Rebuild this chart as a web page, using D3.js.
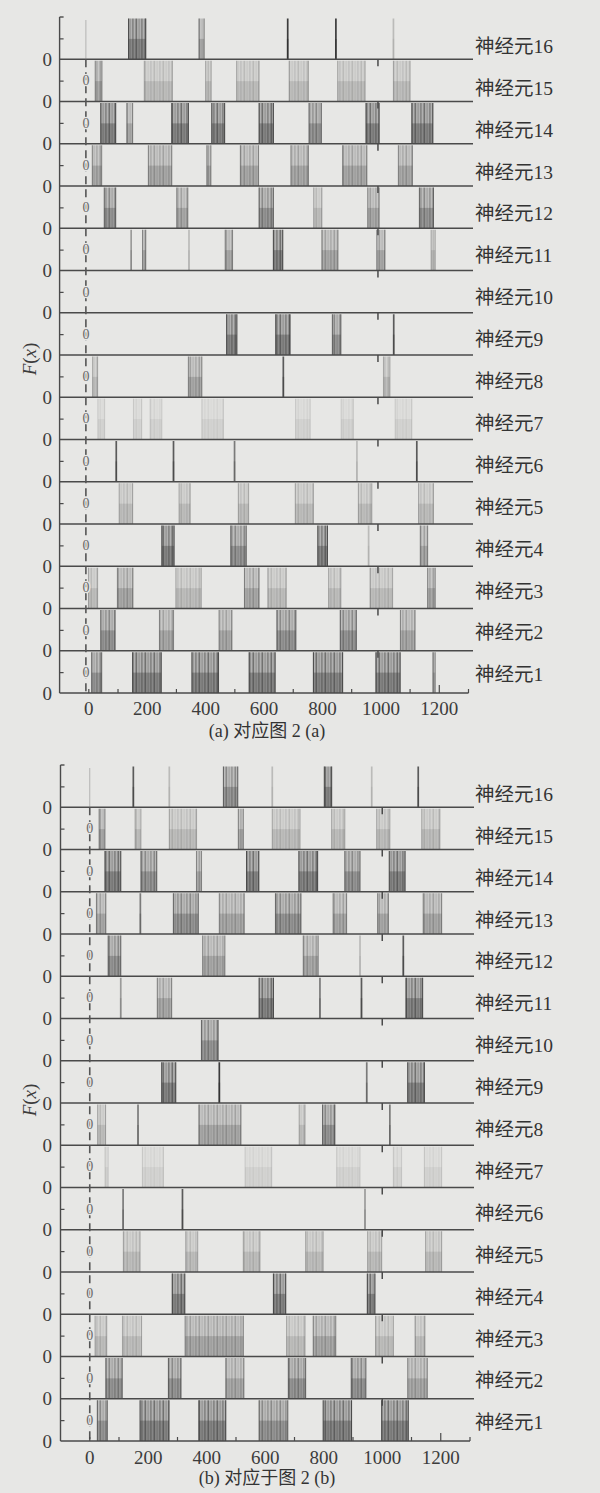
<!DOCTYPE html>
<html><head><meta charset="utf-8">
<script src="https://cdn.jsdelivr.net/npm/d3@7"></script>
<style>
html,body{margin:0;padding:0;background:#e7e7e5;}
svg{display:block;}
</style></head>
<body>
<script>
// ---------- DATA (times in x-axis units; shade 1=faint ... 5=very dark) ----------
const neuronIds = d3.range(1, 17);
const neuronLabels = neuronIds.map(i => "神经元" + i);
const xTickLabels = [0, 200, 400, 600, 800, 1000, 1200];
const xMinorTicks = [0, 100, 300, 500, 700, 900, 1100, 1300];
const xTallTicks = [1200];

// Panel (a): bursts per neuron (index 0 = neuron 1) as [start, end, shade]
const burstsA = [
  [[10,44,4],[150,248,5],[353,444,5],[549,638,5],[769,869,5],[983,1066,5],[1178,1186,3]],          // 1
  [[41,90,4],[242,290,3],[446,490,3],[644,709,4],[861,916,4],[1067,1117,3]],                         // 2
  [[-1,30,2],[98,151,3],[298,385,2],[533,583,3],[613,676,2],[821,863,2],[963,1040,2],[1160,1186,3]],// 3
  [[250,292,5],[486,539,4],[784,817,5],[958,958,1],[1135,1160,3]],                                   // 4
  [[104,150,2],[309,347,2],[512,547,2],[707,769,2],[923,969,2],[1129,1180,2]],                       // 5
  [[94,94,4],[290,290,4],[499,499,3],[918,918,1],[1123,1123,4]],                                     // 6
  [[31,54,1],[153,181,1],[210,250,1],[387,461,1],[708,758,1],[864,906,1],[1049,1106,1]],             // 7
  [[13,30,2],[341,387,3],[666,666,4],[1009,1031,2]],                                                  // 8
  [[472,507,5],[640,689,5],[834,863,4],[1044,1044,4]],                                                // 9
  [],                                                                                                 // 10
  [[145,145,2],[184,195,3],[343,343,1],[467,492,3],[632,664,5],[798,853,3],[986,1014,3],[1172,1186,2]],// 11
  [[53,92,4],[301,339,3],[583,632,4],[770,798,2],[955,994,3],[1132,1180,4]],                         // 12
  [[12,44,3],[204,284,3],[404,418,3],[519,581,3],[692,752,3],[869,952,3],[1060,1108,3]],             // 13
  [[41,92,5],[130,150,3],[284,341,5],[421,465,5],[583,632,5],[754,796,4],[949,994,5],[1106,1178,5]], // 14
  [[22,45,3],[190,286,2],[400,419,2],[506,583,2],[686,752,2],[852,946,2],[1043,1100,2]],             // 15
  [[136,195,5],[377,395,3],[681,681,5],[846,846,5],[1043,1043,1]]                                    // 16
];

// Panel (b)
const burstsB = [
  [[26,60,4],[172,271,5],[373,465,5],[579,677,4],[798,895,5],[998,1089,5]],                          // 1
  [[55,111,4],[269,312,4],[465,527,3],[679,738,4],[894,944,4],[1087,1154,3]],                        // 2
  [[18,58,2],[112,177,2],[326,525,3],[673,736,2],[764,841,3],[977,1038,2],[1112,1146,2]],            // 3
  [[282,325,5],[628,670,5],[949,975,5]],                                                              // 4
  [[115,172,2],[328,369,2],[525,582,2],[738,798,2],[950,998,2],[1148,1203,2]],                       // 5
  [[114,114,3],[317,317,4],[941,941,2]],                                                              // 6
  [[52,63,1],[180,252,1],[531,622,1],[844,924,1],[1038,1066,1],[1144,1203,1]],                       // 7
  [[27,54,2],[165,165,3],[373,517,3],[716,736,2],[796,838,4],[1026,1026,3]],                         // 8
  [[246,294,5],[443,443,5],[947,947,3],[1087,1144,5]],                                               // 9
  [[382,439,4]],                                                                                      // 10
  [[106,106,2],[231,280,3],[579,628,5],[787,787,3],[929,929,4],[1081,1138,5]],                       // 11
  [[63,106,4],[386,462,3],[730,781,3],[924,924,1],[1072,1072,4]],                                    // 12
  [[23,55,3],[173,173,3],[286,371,4],[443,528,3],[635,722,4],[832,878,3],[984,1021,3],[1140,1203,3]],// 13
  [[52,106,5],[175,229,4],[365,382,3],[536,578,5],[715,779,5],[872,924,4],[1024,1078,5]],            // 14
  [[32,52,3],[155,175,2],[272,365,2],[508,525,3],[624,719,2],[827,872,2],[981,1026,2],[1135,1197,2]],// 15
  [[149,149,4],[272,272,1],[457,506,4],[624,624,1],[802,827,5],[964,964,1],[1123,1123,4]]            // 16
];

// ---------- LAYOUT ----------
const W = 600, H = 1493, BG = "#e7e7e5", INK = "#4a4a4a";
const panels = [
  {data: burstsA, domain: [-100, 1300], range: [59.6, 468.5], top: 17, bottom: 693,
   lineEnd: 473, dash: -10, hang: 990, caption: "(a) 对应图 2 (a)", capY: 737, labY: 715, fxY: 359},
  {data: burstsB, domain: [-100, 1300], range: [60.5, 470], top: 765, bottom: 1441,
   lineEnd: 474, dash: 0, hang: 1000, caption: "(b) 对应于图 2 (b)", capY: 1484, labY: 1464, fxY: 1100}
];

const svg = d3.select("body").append("svg").attr("width", W).attr("height", H);
svg.append("rect").attr("width", W).attr("height", H).attr("fill", BG);

const defs = svg.append("defs");
const pat = defs.append("pattern").attr("id", "stripes").attr("patternUnits", "userSpaceOnUse")
  .attr("width", 9).attr("height", 10);
pat.append("rect").attr("width", 9).attr("height", 10).attr("fill", "#939393");
pat.append("rect").attr("x", 0.5).attr("width", 1.6).attr("height", 10).attr("fill", "#2e2e2e");
pat.append("rect").attr("x", 3.6).attr("width", 1).attr("height", 10).attr("fill", "#5a5a5a");
pat.append("rect").attr("x", 6.2).attr("width", 1.4).attr("height", 10).attr("fill", "#404040");

const shadeOp = d3.scaleLinear().domain([1, 5]).range([0.14, 0.85]);
const serif = "'Liberation Serif','DejaVu Serif',serif";
const labelFont = "'Liberation Serif','Noto Sans CJK SC',serif";

panels.forEach(p => {
  const g = svg.append("g");
  const x = d3.scaleLinear().domain(p.domain).range(p.range);
  const band = d3.scaleBand().domain(neuronIds.slice().reverse()).range([p.top, p.bottom]).padding(0);
  const rowH = band.bandwidth();

  neuronIds.forEach((n, i) => {
    const rTop = band(n), base = rTop + rowH;
    const y = d3.scaleLinear().domain([0, 1]).range([base, rTop + 1.5]);
    const rg = g.append("g");
    (p.data[i] || []).forEach(([t0, t1, s]) => {
      const op = shadeOp(s);
      if (t1 - t0 < 4) {
        const xm = x((t0 + t1) / 2);
        rg.append("line").attr("x1", xm).attr("x2", xm).attr("y1", y(0)).attr("y2", y(1))
          .attr("stroke", "#333").attr("stroke-width", 1.7).attr("opacity", Math.min(1, op + 0.1));
        rg.append("line").attr("x1", xm).attr("x2", xm).attr("y1", y(0)).attr("y2", y(0.5))
          .attr("stroke", "#222").attr("stroke-width", 1.7).attr("opacity", op * 0.4);
      } else {
        rg.append("rect").attr("x", x(t0)).attr("width", x(t1) - x(t0))
          .attr("y", y(1)).attr("height", y(0) - y(1))
          .attr("fill", "url(#stripes)").attr("opacity", op * 0.75);
        rg.append("rect").attr("x", x(t0)).attr("width", x(t1) - x(t0))
          .attr("y", y(0.5)).attr("height", y(0) - y(0.5))
          .attr("fill", "#3a3a3a").attr("opacity", op * 0.42);
        [t0, t1].forEach(t => rg.append("line").attr("x1", x(t)).attr("x2", x(t))
          .attr("y1", y(0)).attr("y2", y(1)).attr("stroke", "#3a3a3a")
          .attr("stroke-width", 1.1).attr("opacity", op));
      }
    });
    if (n > 1) {
      g.append("line").attr("x1", p.range[0]).attr("x2", p.lineEnd).attr("y1", base).attr("y2", base)
        .attr("stroke", INK).attr("stroke-width", 1.4);
      g.append("line").attr("x1", x(p.hang)).attr("x2", x(p.hang)).attr("y1", base).attr("y2", base + 7)
        .attr("stroke", INK).attr("stroke-width", 1.5);
    }
    g.append("line").attr("x1", p.range[0]).attr("x2", p.range[0] + 4)
      .attr("y1", y(0.5)).attr("y2", y(0.5)).attr("stroke", INK).attr("stroke-width", 1.2);
    g.append("text").attr("x", 52).attr("y", base).attr("dy", "0.35em").attr("text-anchor", "end")
      .attr("font-family", serif).attr("font-size", 19).attr("fill", "#3c3c3c").text("0");
    g.append("text").attr("x", 475).attr("y", (rTop + base) / 2 + 2.5 + i * 0.35).attr("dy", "0.36em")
      .attr("font-family", labelFont).attr("font-size", 19.5).attr("fill", "#333")
      .text(neuronLabels[i]);
  });

  const band16Base = band(16) + rowH;
  g.append("line").attr("x1", x(p.dash)).attr("x2", x(p.dash)).attr("y1", p.top + 3).attr("y2", band16Base)
    .attr("stroke", "#777").attr("stroke-width", 1).attr("opacity", 0.45);
  g.append("line").attr("x1", x(p.dash)).attr("x2", x(p.dash)).attr("y1", band16Base).attr("y2", p.bottom)
    .attr("stroke", "#555").attr("stroke-width", 1.6).attr("stroke-dasharray", "8,5");
  neuronIds.filter(n => n < 16).forEach(n => {
    g.append("text").attr("x", x(p.dash)).attr("y", band(n) + rowH / 2).attr("dy", "0.35em")
      .attr("text-anchor", "middle").attr("font-family", serif).attr("font-size", 14)
      .attr("fill", "#6a6a6a").attr("stroke", BG).attr("stroke-width", 2.5).attr("paint-order", "stroke")
      .text("0");
  });

  g.append("line").attr("x1", p.range[0]).attr("x2", p.range[0]).attr("y1", p.top).attr("y2", p.bottom)
    .attr("stroke", INK).attr("stroke-width", 1.4);
  g.append("line").attr("x1", p.range[0]).attr("x2", p.range[0] + 4).attr("y1", p.top).attr("y2", p.top)
    .attr("stroke", INK).attr("stroke-width", 1.4);

  g.append("line").attr("x1", p.range[0]).attr("x2", p.range[1]).attr("y1", p.bottom).attr("y2", p.bottom)
    .attr("stroke", INK).attr("stroke-width", 1.4);
  xMinorTicks.forEach(t => g.append("line").attr("x1", x(t)).attr("x2", x(t))
    .attr("y1", p.bottom).attr("y2", p.bottom - 4).attr("stroke", INK).attr("stroke-width", 1.2));
  xTallTicks.forEach(t => g.append("line").attr("x1", x(t)).attr("x2", x(t))
    .attr("y1", p.bottom).attr("y2", p.bottom - 8).attr("stroke", INK).attr("stroke-width", 1.2));
  xTickLabels.forEach(t => g.append("text").attr("x", x(t)).attr("y", p.labY)
    .attr("text-anchor", "middle").attr("font-family", serif).attr("font-size", 19)
    .attr("fill", "#3c3c3c").text(t));

  g.append("text").attr("x", 267).attr("y", p.capY).attr("text-anchor", "middle")
    .attr("font-family", labelFont).attr("font-size", 18).attr("fill", "#333").text(p.caption);

  const fx = g.append("text").attr("transform", `translate(36,${p.fxY}) rotate(-90)`)
    .attr("text-anchor", "middle").attr("font-family", serif).attr("font-size", 19).attr("fill", "#3c3c3c");
  fx.append("tspan").attr("font-style", "italic").text("F");
  fx.append("tspan").text("(");
  fx.append("tspan").attr("font-style", "italic").text("x");
  fx.append("tspan").text(")");
});
</script>
</body></html>
